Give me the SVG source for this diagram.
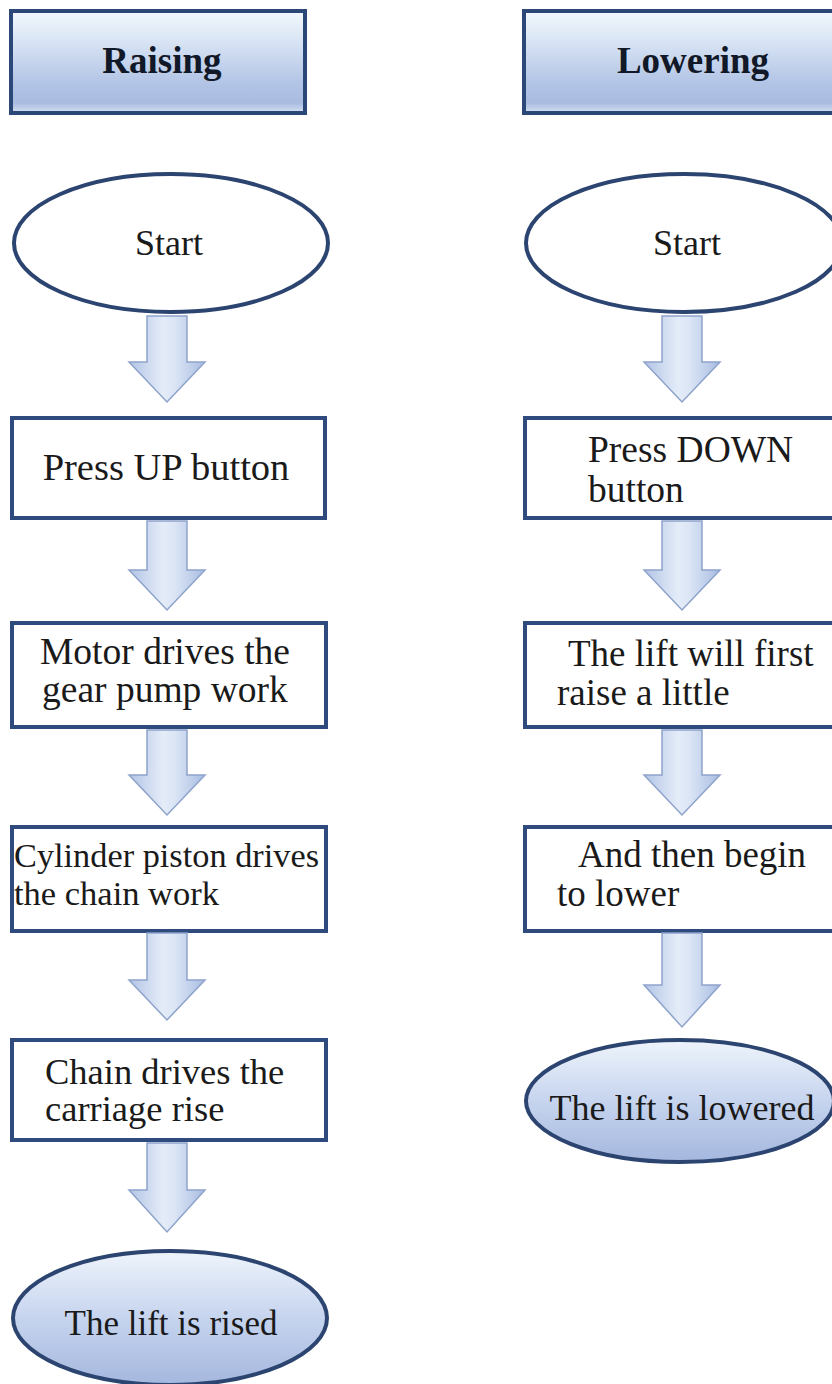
<svg xmlns="http://www.w3.org/2000/svg" width="832" height="1384" viewBox="0 0 832 1384">
<defs>
<linearGradient id="hdr" x1="0" y1="0" x2="0" y2="1">
<stop offset="0" stop-color="#f2f8fd"/>
<stop offset="0.25" stop-color="#dde8f6"/>
<stop offset="0.7" stop-color="#b3c5e6"/>
<stop offset="0.9" stop-color="#a8bbe0"/>
<stop offset="1" stop-color="#d6e1f2"/>
</linearGradient>
<linearGradient id="endg" x1="0" y1="0" x2="0" y2="1">
<stop offset="0" stop-color="#eef4fb"/>
<stop offset="0.5" stop-color="#c6d4ee"/>
<stop offset="1" stop-color="#a4b7de"/>
</linearGradient>
<linearGradient id="arr" x1="0" y1="0" x2="1" y2="0">
<stop offset="0" stop-color="#b2c4e5"/>
<stop offset="0.45" stop-color="#e4ecf8"/>
<stop offset="0.6" stop-color="#dbe5f5"/>
<stop offset="1" stop-color="#a9bde2"/>
</linearGradient>
</defs>
<style>
.hbox{fill:url(#hdr);stroke:#2c4878;stroke-width:4}
.box{fill:#ffffff;stroke:#2f4a7c;stroke-width:4}
.ell{fill:#ffffff;stroke:#2c4470;stroke-width:4}
.endell{fill:url(#endg);stroke:#2c4470;stroke-width:4}
.arrow{fill:url(#arr);stroke:#8ea3cb;stroke-width:1.5}
.t{font-family:'Liberation Serif','Times New Roman',serif;fill:#1a1a1a;font-size:36px}
.h{font-weight:bold;font-size:37px;fill:#111827}
.c{text-anchor:middle}
.s39{font-size:38.5px}
.s375{font-size:37.5px}
.s37{font-size:37px}
.s365{font-size:36.5px}
.s345{font-size:34.5px}
.s35{font-size:35px}
</style>
<rect width="832" height="1384" fill="#ffffff"/>
<g id="raising-header"><rect class="hbox" x="11" y="11" width="294" height="102"/><text class="t h c" x="162" y="73">Raising</text></g>
<g id="lowering-header"><rect class="hbox" x="524" y="11" width="330" height="102"/><text class="t h c" x="693" y="73">Lowering</text></g>
<g id="start-left"><ellipse class="ell" cx="171" cy="243" rx="157" ry="69"/><text class="t c" x="169" y="255">Start</text></g>
<g id="start-right"><ellipse class="ell" cx="684" cy="243" rx="158" ry="69"/><text class="t c" x="687" y="255">Start</text></g>
<g id="press-up"><rect class="box" x="12" y="418" width="313" height="100"/><text class="t c s39" x="166" y="480">Press UP button</text></g>
<g id="motor"><rect class="box" x="12" y="623" width="314" height="104"/><text class="t s375" x="40" y="664">Motor drives the</text><text class="t s375" x="42" y="702">gear pump work</text></g>
<g id="cylinder"><rect class="box" x="12" y="827" width="314" height="104"/><text class="t s345" x="14" y="867" textLength="305" lengthAdjust="spacingAndGlyphs">Cylinder piston drives</text><text class="t s345" x="14" y="905">the chain work</text></g>
<g id="chain"><rect class="box" x="12" y="1040" width="314" height="100"/><text class="t s365" x="45" y="1084">Chain drives the</text><text class="t s365" x="45" y="1121">carriage rise</text></g>
<g id="rised"><ellipse class="endell" cx="170" cy="1318" rx="157" ry="67"/><text class="t c s35" x="171" y="1335">The lift is rised</text></g>
<g id="press-down"><rect class="box" x="525" y="418" width="320" height="100"/><text class="t s375" x="588" y="462">Press DOWN</text><text class="t s375" x="588" y="502">button</text></g>
<g id="raise-little"><rect class="box" x="525" y="623" width="320" height="104"/><text class="t s37" x="568" y="666">The lift will first</text><text class="t s37" x="557" y="705">raise a little</text></g>
<g id="begin-lower"><rect class="box" x="525" y="827" width="320" height="104"/><text class="t s37" x="578" y="867">And then begin</text><text class="t s37" x="557" y="906">to lower</text></g>
<g id="lowered"><ellipse class="endell" cx="680" cy="1101" rx="154" ry="61"/><text class="t c" x="682" y="1120">The lift is lowered</text></g>
<g id="connectors">
<path class="arrow" d="M147 316 H187 V362 H205 L167 402 L129 362 H147 Z"/>
<path class="arrow" d="M147 521 H187 V570 H205 L167 610 L129 570 H147 Z"/>
<path class="arrow" d="M147 730 H187 V775 H205 L167 815 L129 775 H147 Z"/>
<path class="arrow" d="M147 933 H187 V980 H205 L167 1020 L129 980 H147 Z"/>
<path class="arrow" d="M147 1143 H187 V1190 H205 L167 1232 L129 1190 H147 Z"/>
<path class="arrow" d="M662 316 H702 V362 H720 L682 402 L644 362 H662 Z"/>
<path class="arrow" d="M662 521 H702 V570 H720 L682 610 L644 570 H662 Z"/>
<path class="arrow" d="M662 730 H702 V775 H720 L682 815 L644 775 H662 Z"/>
<path class="arrow" d="M662 933 H702 V985 H720 L682 1027 L644 985 H662 Z"/>
</g>
</svg>
